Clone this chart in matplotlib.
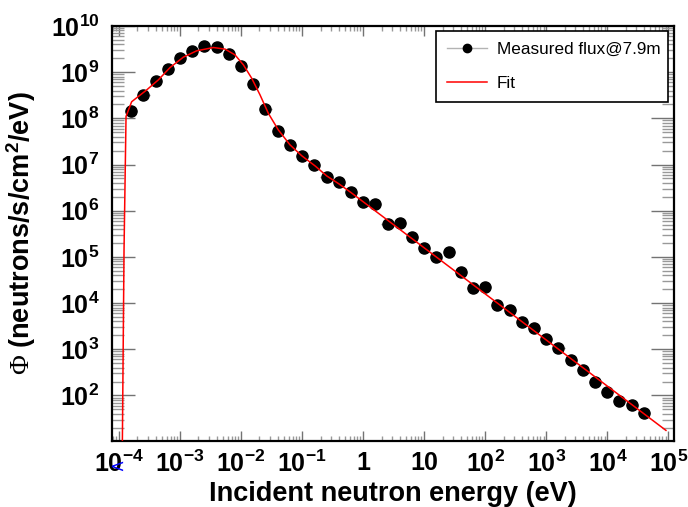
import matplotlib
matplotlib.use('Agg')
import matplotlib.pyplot as plt
from matplotlib.ticker import FixedLocator, FuncFormatter, NullFormatter
from matplotlib.lines import Line2D
import numpy as np

plt.rcParams['font.family'] = ['Liberation Sans', 'DejaVu Sans']
plt.rcParams['mathtext.fontset'] = 'custom'
plt.rcParams['mathtext.rm'] = 'Liberation Sans:bold'
plt.rcParams['mathtext.it'] = 'Liberation Sans:bold'
plt.rcParams['mathtext.bf'] = 'Liberation Sans:bold'
plt.rcParams['mathtext.sf'] = 'Liberation Serif'
plt.rcParams['mathtext.default'] = 'rm'

# ---- measured flux ----
energy_eV = [1.58e-4, 2.51e-4, 3.98e-4, 6.31e-4, 1.00e-3, 1.58e-3, 2.51e-3, 3.98e-3, 6.31e-3,
             1.00e-2, 1.58e-2, 2.51e-2, 3.98e-2, 6.31e-2, 1.00e-1, 1.58e-1, 2.51e-1, 3.98e-1, 6.31e-1,
             1.00, 1.58, 2.51, 3.98, 6.31, 10.0, 15.8, 25.1, 39.8, 63.1,
             100.0, 158.0, 251.0, 398.0, 631.0, 1000.0, 1580.0, 2510.0, 3980.0, 6310.0,
             1.00e4, 1.58e4, 2.51e4, 3.98e4]
flux = [1.47e8, 3.27e8, 6.47e8, 1.18e9, 2.01e9, 2.94e9, 3.72e9, 3.54e9, 2.45e9,
        1.37e9, 5.57e8, 1.57e8, 5.41e7, 2.61e7, 1.51e7, 9.62e6, 5.43e6, 4.17e6, 2.57e6,
        1.56e6, 1.39e6, 5.05e5, 5.46e5, 2.64e5, 1.52e5, 9.84e4, 1.28e5, 4.73e4, 2.17e4,
        2.23e4, 9.27e3, 6.98e3, 3.83e3, 2.88e3, 1.66e3, 1.08e3, 594.0, 348.0, 195.0,
        120.0, 76.7, 60.7, 41.3]

# ---- fit curve ----
fit_energy = [1.135e-4, 1.208e-4, 1.303e-4, 1.61e-4, 2.84e-4, 4.41e-4, 6.85e-4, 1.13e-3,
              1.87e-3, 3.51e-3, 5.46e-3, 7.94e-3, 1.09e-2, 1.49e-2, 2.04e-2, 2.79e-2,
              4.07e-2, 6.32e-2, 9.84e-2, 0.163, 0.253, 0.402, 0.632, 9.12e4]
fit_flux = [10.0, 1.41e5, 1.10e8, 2.29e8, 4.13e8, 6.81e8, 1.26e9, 2.11e9,
            2.90e9, 3.42e9, 3.16e9, 2.37e9, 1.44e9, 7.41e8, 3.23e8, 1.29e8,
            5.62e7, 2.67e7, 1.55e7, 9.33e6, 5.66e6, 3.80e6, 2.47e6, 17.5]

legend_labels = ['Measured flux@7.9m', 'Fit']
x_label = 'Incident neutron energy (eV)'
y_label = r'$\mathsf{\Phi}$ (neutrons/s/cm$^{2}$/eV)'
x_decades = list(range(-4, 6))
y_decades = list(range(2, 11))

bin_half_decades = 0.1

W, H = 688, 507
fig = plt.figure(figsize=(W / 100, H / 100), dpi=100)
ax = fig.add_axes([112 / W, 1 - 441 / H, 562 / W, 415 / H])
ax.set_xscale('log')
ax.set_yscale('log')
xmin, xmax = 10 ** -4.115, 10 ** 5.092
ymin, ymax = 10.3, 1e10
ax.set_xlim(xmin, xmax)
ax.set_ylim(ymin, ymax)

e = np.array(energy_eV)
xerr = [e - e / 10 ** bin_half_decades, e * 10 ** bin_half_decades - e]
ax.errorbar(energy_eV, flux, xerr=xerr, fmt='none', ecolor='0.6', elinewidth=1.0, zorder=2)
ax.plot(energy_eV, flux, 'o', color='black', ms=8, zorder=3)
ax.plot(fit_energy, fit_flux, color='#ff0000', lw=1.1, zorder=4)


def minors(lo, hi):
    out = []
    for d in range(int(np.floor(np.log10(lo))), int(np.ceil(np.log10(hi))) + 1):
        for s in range(2, 10):
            v = s * 10.0 ** d
            if lo <= v <= hi:
                out.append(v)
    return out


ax.xaxis.set_major_locator(FixedLocator([10.0 ** k for k in x_decades]))
ax.yaxis.set_major_locator(FixedLocator([10.0 ** k for k in y_decades]))
ax.xaxis.set_minor_locator(FixedLocator(minors(xmin, xmax)))
ax.yaxis.set_minor_locator(FixedLocator(minors(ymin, ymax)))
ax.xaxis.set_minor_formatter(NullFormatter())
ax.yaxis.set_minor_formatter(NullFormatter())


def fmt(v, pos):
    k = int(round(np.log10(v)))
    if k == 0:
        return '1'
    if k == 1:
        return '10'
    return r'$10^{%d}$' % k


ax.xaxis.set_major_formatter(FuncFormatter(fmt))
ax.yaxis.set_major_formatter(FuncFormatter(fmt))

ax.tick_params(axis='x', which='major', direction='in', length=7.5, width=1.0, color='0.45',
               top=True, pad=7, labelsize=18)
ax.tick_params(axis='x', which='minor', direction='in', length=3.8, width=1.0, color='0.6', top=True)
ax.tick_params(axis='y', which='major', direction='in', length=16.5, width=1.0, color='0.45',
               right=True, pad=9, labelsize=18)
ax.tick_params(axis='y', which='minor', direction='in', length=8.6, width=1.0, color='0.6', right=True)
for lbl in ax.get_xticklabels() + ax.get_yticklabels():
    lbl.set_fontweight('bold')

for sp in ax.spines.values():
    sp.set_linewidth(1.6)
    sp.set_color('black')

ax.set_xlabel(x_label, fontsize=19.5, fontweight='bold')
ax.set_ylabel(y_label, fontsize=19.5, fontweight='bold')
ax.xaxis.set_label_coords(0.5, -0.096)
ax.yaxis.set_label_coords(-0.132, 0.5)

h1 = Line2D([], [], color='0.7', lw=1.0, marker='o', mfc='black', mec='black', ms=6)
h2 = Line2D([], [], color='#ff0000', lw=1.1)
leg = ax.legend([h1, h2], legend_labels, loc='upper left',
                bbox_to_anchor=(0.5765, 0.8265, 0.4125, 0.1615), mode='expand',
                borderaxespad=0, prop={'family': 'Liberation Sans', 'weight': 'normal', 'size': 12.3},
                handlelength=2.35, handletextpad=0.58, borderpad=0.62, labelspacing=1.15,
                fancybox=False, framealpha=1, edgecolor='black')
leg.get_frame().set_linewidth(1.2)

fig.text(116.5 / W, 1 - 466.5 / H, '<', color='blue', fontsize=13, ha='center', va='center',
         fontweight='normal', family='DejaVu Sans')

fig.savefig('out.png', dpi=100)
